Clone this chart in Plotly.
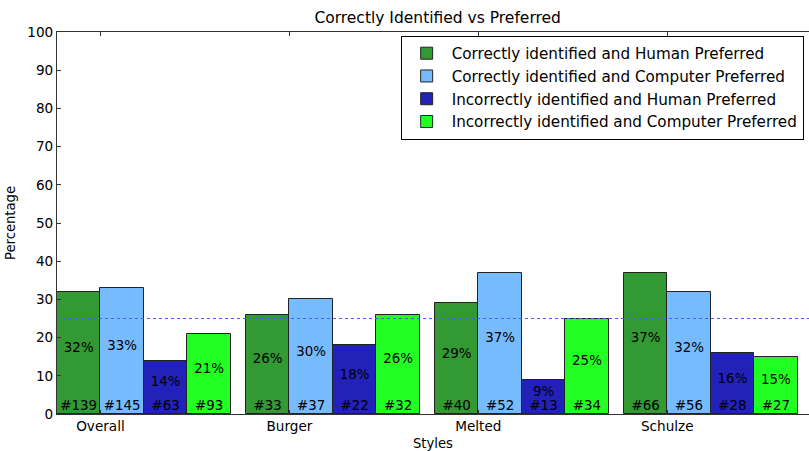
import plotly.graph_objects as go

styles = ["Overall", "Burger", "Melted", "Schulze"]
series_names = [
    "Correctly identified and Human Preferred",
    "Correctly identified and Computer Preferred",
    "Incorrectly identified and Human Preferred",
    "Incorrectly identified and Computer Preferred",
]
percent_ch = [32, 26, 29, 37]
percent_cc = [33, 30, 37, 32]
percent_ih = [14, 18, 9, 16]
percent_ic = [21, 26, 25, 15]
count_ch = [139, 33, 40, 66]
count_cc = [145, 37, 52, 56]
count_ih = [63, 22, 13, 28]
count_ic = [93, 32, 34, 27]
colors = ["#339933", "#77bbff", "#2222bb", "#22ff22"]
chance_level = 25
bar_width = 0.23

percents = [percent_ch, percent_cc, percent_ih, percent_ic]
counts = [count_ch, count_cc, count_ih, count_ic]

FONT = "DejaVu Sans"
fig = go.Figure()
for k in range(4):
    xs = [i + k * bar_width + bar_width / 2 for i in range(len(styles))]
    fig.add_trace(go.Bar(
        x=xs, y=percents[k], width=bar_width, name=series_names[k],
        marker=dict(color=colors[k], line=dict(color="#222222", width=1)),
        hoverinfo="skip",
    ))
    fig.add_trace(go.Scatter(
        x=xs, y=[v / 2 + 1.1 for v in percents[k]], mode="text",
        text=[f"{v}%" for v in percents[k]], textposition="middle center",
        textfont=dict(family=FONT, size=13.4, color="black"),
        showlegend=False, hoverinfo="skip",
    ))
    fig.add_trace(go.Scatter(
        x=xs, y=[1.9] * len(styles), mode="text",
        text=[f"#{c}" for c in counts[k]], textposition="middle center",
        textfont=dict(family=FONT, size=13.4, color="black"),
        showlegend=False, hoverinfo="skip",
    ))

fig.add_hline(y=chance_level, line=dict(color="#5555ff", width=1, dash="dot"))

fig.update_layout(
    width=809, height=451,
    margin=dict(l=57, r=0, t=32, b=37),
    paper_bgcolor="white", plot_bgcolor="white",
    bargap=0, barmode="overlay",
    font=dict(family=FONT, size=13.6, color="black"),
    title=dict(text="Correctly Identified vs Preferred", x=0.541, xanchor="center",
               y=0.962, yanchor="middle", font=dict(family=FONT, size=15.5)),
    showlegend=True,
    legend=dict(x=0.457, y=0.99, xanchor="left", yanchor="top",
                bgcolor="white", bordercolor="black", borderwidth=1,
                font=dict(family=FONT, size=15.2), tracegroupgap=0,
                itemwidth=40),
    xaxis=dict(
        range=[0, 3.98], tickvals=[i + bar_width for i in range(len(styles))],
        ticktext=styles, showgrid=False, zeroline=False,
        showline=True, linecolor="#333333", linewidth=1, mirror="ticks",
        ticks="inside", ticklen=4, tickcolor="#333333",
        title=dict(text="Styles", standoff=6, font=dict(size=13.2)),
        tickfont=dict(size=13.6),
    ),
    yaxis=dict(
        range=[0, 100], tickvals=list(range(0, 101, 10)), showgrid=False,
        zeroline=False, showline=True, linecolor="#333333", linewidth=1,
        ticks="inside", ticklen=4, tickcolor="#333333",
        title=dict(text="Percentage", standoff=8, font=dict(size=13.2)),
        tickfont=dict(size=13.6),
    ),
)

fig.write_html("out.html")
